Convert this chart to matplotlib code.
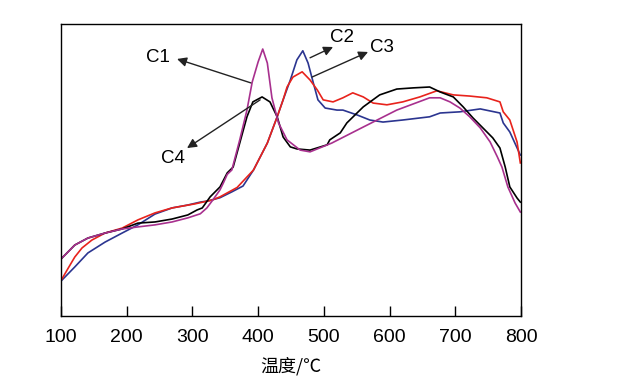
#!/usr/bin/env python3

import matplotlib.pyplot as plt

# temperature (°C) and relative intensity (arbitrary units, 0-100)
c1_temp = [100, 121, 141, 167, 193, 217, 243, 269, 281, 293, 312, 322, 331, 342,
           347, 353, 360, 372, 383, 391, 400, 407, 414, 421, 431, 444, 464, 479,
           512, 560, 611, 636, 661, 677, 692, 707, 722, 738, 753, 764, 771, 780,
           791, 799]
c1_val = [19.5, 24.3, 26.7, 28.4, 29.8, 30.5, 31.2, 32.2, 32.9, 33.6, 35.0, 37.0,
          39.7, 43.2, 45.5, 48.5, 50.0, 60.3, 70.5, 80.1, 87.0, 91.4, 86.6, 74.7,
          66.1, 60.3, 56.8, 56.2, 59.2, 64.7, 70.5, 72.6, 74.7, 74.7, 73.3, 71.2,
          68.2, 64.4, 59.6, 54.5, 51.0, 44.2, 38.7, 35.6]

c2_temp = [101.5, 121, 141, 167, 193, 217, 243, 269, 293, 312, 324, 342, 360, 377,
           393, 414, 429, 438, 449, 459, 468, 476, 484, 491, 502, 520, 529, 551,
           570, 590, 620, 661, 677, 707, 738, 768, 773, 783, 799]
c2_val = [12.3, 16.8, 21.6, 25.3, 28.4, 31.2, 34.9, 37.0, 38.0, 39.0, 39.4, 40.5,
          42.5, 44.5, 50.0, 59.2, 68.2, 74.0, 80.8, 87.7, 90.8, 86.6, 79.8, 74.0,
          71.2, 70.5, 70.5, 68.8, 67.1, 66.4, 67.1, 68.2, 69.5, 69.9, 70.9, 69.5,
          66.1, 63.0, 55.1]

c3_temp = [101.5, 111, 121, 132, 147, 167, 193, 217, 243, 269, 304, 330, 342, 368,
           393, 414, 429, 438, 444, 453, 467, 479, 490, 499, 514, 529, 544, 560,
           575, 596, 620, 646, 672, 697, 722, 748, 768, 773, 783, 794, 799]
c3_val = [12.7, 16.4, 20.2, 23.3, 26.0, 28.4, 30.1, 32.9, 35.3, 37.0, 38.4, 39.7,
          40.8, 44.0, 50.0, 59.2, 68.2, 74.0, 78.4, 81.8, 83.6, 80.8, 77.4, 74.0,
          73.3, 74.7, 76.4, 75.0, 72.9, 72.3, 73.3, 75.0, 77.1, 75.7, 75.3, 74.7,
          73.3, 69.9, 67.1, 59.6, 52.4]

c4_temp = [100, 121, 141, 167, 193, 217, 243, 269, 293, 307, 315, 327, 342, 353,
           362, 372, 383, 392, 406, 418, 429, 438, 449, 459, 479, 505, 509, 525,
           535, 560, 585, 611, 636, 661, 677, 697, 712, 727, 742, 757, 768, 776,
           783, 794, 799]
c4_val = [19.5, 24.3, 26.7, 28.4, 29.8, 31.8, 32.2, 33.2, 34.6, 36.3, 37.0, 40.8,
          44.2, 49.0, 51.0, 59.2, 68.2, 73.3, 75.0, 73.3, 68.2, 61.3, 57.9, 57.2,
          56.8, 58.6, 60.3, 62.7, 66.1, 71.6, 75.7, 77.7, 78.1, 78.4, 76.7, 75.0,
          71.6, 67.8, 64.4, 61.0, 57.5, 51.0, 44.2, 40.4, 39.0]

x_ticks = [100, 200, 300, 400, 500, 600, 700, 800]

# label, text position, arrow head, arrow tail (data coords)
callouts = [
    ("C1", (247.6, 88.4), (276.6, 88.0), (389, 79.8)),
    ("C2", (527.7, 95.5), (514, 92.1), (479, 88.4)),
    ("C3", (588.6, 91.8), (567.3, 90.4), (482, 81.8)),
    ("C4", (270.5, 53.8), (291.8, 57.5), (403, 74.0)),
]


def main():
    dpi = 100
    fig = plt.figure(figsize=(642 / dpi, 390 / dpi), dpi=dpi)
    ax = fig.add_axes([0.095, 0.1897, 0.7165, 0.749])

    ax.plot(c2_temp, c2_val, color="#2b3590", lw=1.2)
    ax.plot(c3_temp, c3_val, color="#e8231c", lw=1.2)
    ax.plot(c4_temp, c4_val, color="#000000", lw=1.2)
    ax.plot(c1_temp, c1_val, color="#a8308e", lw=1.2)

    for label, text_xy, head, tail in callouts:
        ax.annotate("", xy=head, xytext=tail,
                    arrowprops=dict(arrowstyle="-|>", color="#222222", lw=1.0,
                                    mutation_scale=14, shrinkA=0, shrinkB=0))
        ax.text(text_xy[0], text_xy[1], label, ha="center", va="center",
                fontsize=13.5, family="Liberation Sans")

    ax.set_xlim(100, 800)
    ax.set_ylim(0, 100)
    ax.set_xticks(x_ticks)
    ax.set_yticks([])
    ax.tick_params(axis="x", direction="in", length=7, width=1, pad=9,
                   labelsize=14)
    for lbl in ax.get_xticklabels():
        lbl.set_family("Liberation Sans")
    for sp in ax.spines.values():
        sp.set_linewidth(1.0)

    ax.set_xlabel("温度/℃", fontsize=13, labelpad=8,
                  family=["Noto Sans CJK SC", "DejaVu Sans"])

    plt.savefig("out.png", dpi=dpi)


if __name__ == "__main__":
    main()
